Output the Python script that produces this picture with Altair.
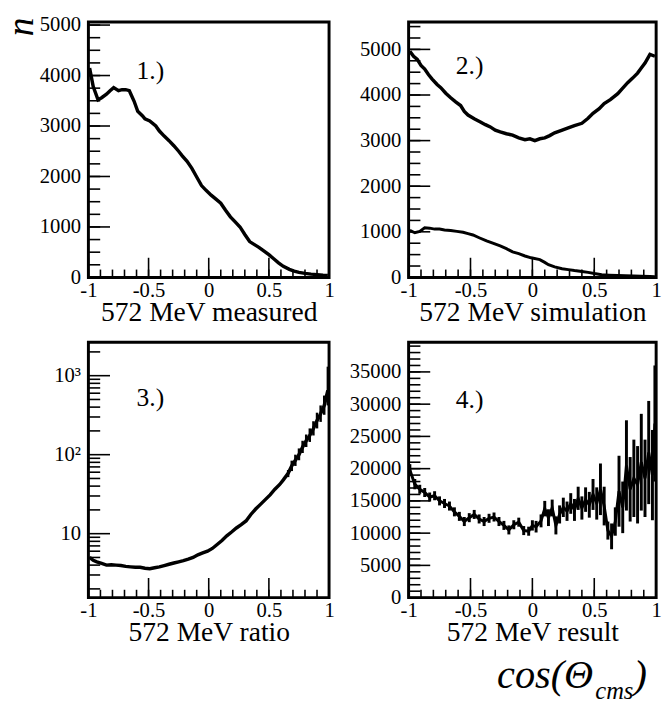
import altair as alt
import pandas as pd

FONT = "Liberation Serif"

# ---------------- data ----------------
# Panel 1: 572 MeV measured
x1 = [-0.99, -0.96, -0.92, -0.89, -0.85, -0.82, -0.79, -0.75, -0.72, -0.69, -0.66, -0.62, -0.59, -0.55,
      -0.53, -0.49, -0.44, -0.41, -0.37, -0.33, -0.29, -0.25, -0.22, -0.18, -0.14, -0.10, -0.06, -0.02,
      0.02, 0.06, 0.10, 0.14, 0.18, 0.22, 0.26, 0.30, 0.34, 0.38, 0.42, 0.46, 0.50, 0.54, 0.58, 0.62,
      0.67, 0.71, 0.75, 0.80, 0.85, 0.90, 0.95, 0.99]
y1 = [4150, 3780, 3520, 3560, 3630, 3700, 3760, 3700, 3720, 3720, 3700, 3490, 3290, 3200,
      3140, 3100, 3000, 2900, 2800, 2710, 2610, 2500, 2410, 2300, 2160, 1990, 1820, 1720,
      1630, 1550, 1470, 1330, 1200, 1100, 1000, 850, 710, 650, 590, 520, 450, 370, 290, 220,
      160, 125, 100, 80, 65, 55, 45, 40]

# Panel 2: 572 MeV simulation (two curves)
x2u = [-0.99, -0.96, -0.93, -0.90, -0.87, -0.84, -0.81, -0.77, -0.74, -0.70, -0.66, -0.62, -0.58, -0.55,
       -0.52, -0.47, -0.42, -0.38, -0.34, -0.30, -0.26, -0.21, -0.16, -0.11, -0.06, -0.02, 0.02, 0.06,
       0.10, 0.14, 0.18, 0.23, 0.29, 0.34, 0.40, 0.45, 0.49, 0.54, 0.58, 0.63, 0.69, 0.73, 0.77, 0.81,
       0.85, 0.88, 0.91, 0.95, 0.99]
y2u = [4960, 4850, 4780, 4650, 4570, 4450, 4350, 4230, 4160, 4040, 3940, 3850, 3770, 3640,
       3560, 3480, 3410, 3350, 3300, 3230, 3190, 3150, 3120, 3060, 3020, 3040, 3000, 3040,
       3060, 3110, 3170, 3220, 3280, 3330, 3380, 3490, 3600, 3700, 3810, 3900, 4030, 4150, 4270, 4370,
       4480, 4590, 4700, 4890, 4850]
x2l = [-0.99, -0.95, -0.91, -0.87, -0.83, -0.79, -0.75, -0.71, -0.66, -0.61, -0.56, -0.52, -0.48, -0.43,
       -0.37, -0.32, -0.26, -0.21, -0.16, -0.11, -0.06, -0.01, 0.06, 0.10, 0.13, 0.18, 0.24, 0.29,
       0.34, 0.40, 0.45, 0.50, 0.56, 0.62, 0.69, 0.75, 0.82, 0.88, 0.95, 0.99]
y2l = [1030, 980, 1010, 1090, 1080, 1060, 1060, 1040, 1030, 1010, 990, 960, 930, 870,
       800, 750, 690, 630, 560, 520, 470, 430, 390, 330, 280, 230, 190, 170,
       150, 130, 110, 85, 60, 50, 40, 35, 30, 25, 20, 15]

# Panel 3: 572 MeV ratio (log scale)
x3 = [-0.99, -0.96, -0.93, -0.89, -0.85, -0.81, -0.77, -0.73, -0.69, -0.65, -0.61, -0.57, -0.53, -0.49,
      -0.45, -0.41, -0.37, -0.33, -0.29, -0.25, -0.21, -0.17, -0.13, -0.09, -0.05, -0.01, 0.03, 0.07,
      0.11, 0.15, 0.19, 0.23, 0.27, 0.31, 0.35, 0.39, 0.43, 0.47, 0.51, 0.55, 0.59, 0.62, 0.66, 0.69,
      0.72, 0.75, 0.78, 0.81, 0.84, 0.87, 0.90, 0.93, 0.96, 0.99]
y3 = [5.0, 4.6, 4.4, 4.2, 4.0, 4.05, 4.0, 3.95, 3.85, 3.8, 3.75, 3.75, 3.65, 3.6,
      3.7, 3.8, 3.95, 4.1, 4.25, 4.4, 4.55, 4.75, 5.0, 5.4, 5.7, 6.0, 6.5, 7.3,
      8.2, 9.4, 10.5, 11.8, 13.0, 14.5, 17.5, 20.5, 23.5, 27, 31, 36.5, 42, 48, 58, 72,
      85, 100, 125, 150, 175, 215, 270, 330, 420, 650]
x3e = [0.66, 0.69, 0.72, 0.75, 0.78, 0.81, 0.84, 0.87, 0.90, 0.93, 0.96, 0.99]
lo3 = [52, 62, 72, 85, 105, 125, 145, 175, 215, 260, 320, 420]
hi3 = [64, 84, 100, 120, 150, 180, 215, 265, 340, 420, 560, 1300]

# Panel 4: 572 MeV result
x4 = [-0.99, -0.95, -0.91, -0.87, -0.83, -0.79, -0.75, -0.71, -0.67, -0.63, -0.59, -0.55, -0.51, -0.47,
      -0.43, -0.39, -0.35, -0.31, -0.27, -0.23, -0.19, -0.15, -0.11, -0.07, -0.03, 0.00, 0.03, 0.07,
      0.10, 0.13, 0.16, 0.19, 0.22, 0.25, 0.28, 0.31, 0.34, 0.37, 0.40, 0.43, 0.46, 0.49, 0.52, 0.55,
      0.58, 0.61, 0.64, 0.67, 0.70, 0.73, 0.76, 0.79, 0.82, 0.85, 0.88, 0.91, 0.94, 0.97, 0.99]
y4 = [19800, 17600, 16800, 16300, 15600, 15800, 15000, 14600, 14200, 13300, 12600, 11800, 12400, 12900,
      12200, 11800, 12300, 12500, 11800, 11200, 10500, 11300, 11700, 10400, 10300, 11200, 11000, 11900,
      13800, 12400, 13900, 11200, 12900, 14000, 13400, 14600, 13600, 15400, 13900, 15200, 14400, 16000, 14600, 16800,
      14200, 10400, 9500, 11800, 16500, 14000, 20500, 16800, 18500, 17500, 21000, 18500, 22500, 19000, 27000]
e4 = [900, 800, 700, 700, 700, 700, 700, 700, 700, 700, 700, 700, 700, 700,
      700, 700, 700, 700, 700, 700, 700, 700, 700, 700, 700, 800, 900, 1000,
      1200, 1300, 1300, 1400, 1400, 1500, 1500, 1600, 1700, 1800, 1800, 1900, 2000, 2400, 2500, 4000,
      3000, 1400, 2000, 2200, 5500, 4000, 7000, 5000, 6000, 6000, 7500, 6000, 8000, 7000, 9000]

# Axis tick values
x_major = [-1, -0.5, 0, 0.5, 1]
x_minor = [round(-1 + 0.1 * i, 1) for i in range(21)]
y1_major = [0, 1000, 2000, 3000, 4000, 5000]
y1_minor = [250 * i for i in range(21)]
y2_major = [0, 1000, 2000, 3000, 4000, 5000]
y2_minor = [250 * i for i in range(23)]
y3_major = [10, 100, 1000]
y3_minor = [m * d for d in (1, 10, 100, 1000) for m in range(2, 10) if 1.55 <= m * d <= 2650]
y4_major = [0, 5000, 10000, 15000, 20000, 25000, 30000, 35000]
y4_minor = [1000 * i for i in range(40)]

W1, W2, H = 245, 252, 260


def x_axis(title):
    return alt.Axis(values=x_major, labelExpr="datum.value + ''", title=title, ticks=False, tickSize=0,
                    domain=False, grid=False, labelFont=FONT, labelFontSize=21, labelColor="black",
                    labelPadding=2, labelFlush=False, labelOverlap=False, titleFont=FONT,
                    titleFontSize=28, titleFontWeight="normal", titleColor="black", titlePadding=-1)


def y_axis(values, expr="datum.value + ''"):
    return alt.Axis(values=values, labelExpr=expr, title=None, ticks=False, tickSize=0, domain=False,
                    grid=False, labelFont=FONT, labelFontSize=21, labelColor="black", labelPadding=8,
                    labelFlush=False, labelOverlap=False)


def tick_layers(xs, ys, xmaj, xmin, ymaj, ymin):
    """Inward ticks along the left and bottom frame edges."""
    layers = []
    for vals, ln in ((ymaj, 22), (ymin, 12)):
        layers.append(alt.Chart(pd.DataFrame({"v": vals})).mark_rule(color="black", strokeWidth=1.6)
                      .encode(y=alt.Y("v:Q", scale=ys, axis=None), x=alt.value(0), x2=alt.value(ln)))
    for vals, ln in ((xmaj, 20), (xmin, 8)):
        layers.append(alt.Chart(pd.DataFrame({"v": vals})).mark_rule(color="black", strokeWidth=1.6)
                      .encode(x=alt.X("v:Q", scale=xs, axis=None), y=alt.value(H), y2=alt.value(H - ln)))
    return layers


def label(text, px, py, size=26, style="normal", angle=0, opacity=1):
    kw = dict(font=FONT, fontSize=size, fontStyle=style, color="black", align="left",
              baseline="alphabetic", opacity=opacity)
    if angle:
        kw.update(angle=angle, align="center", baseline="middle")
    return alt.Chart(pd.DataFrame({"t": [text]})).mark_text(**kw).encode(
        x=alt.value(px), y=alt.value(py), text="t:N")


def panel(main, extras, ticks, texts, width):
    return alt.layer(main, *extras, *ticks, *texts).resolve_axis(
        x="independent", y="independent").properties(width=width, height=H)


xs = alt.Scale(domain=[-1, 1], nice=False, zero=False)

# Panel 1
ys1 = alt.Scale(domain=[0, 5060], nice=False)
d1 = pd.DataFrame({"x": x1, "y": y1})
p1 = panel(
    alt.Chart(d1).mark_line(color="black", strokeWidth=3.5).encode(
        x=alt.X("x:Q", scale=xs, axis=x_axis("572 MeV measured")),
        y=alt.Y("y:Q", scale=ys1, axis=y_axis(y1_major))),
    [],
    tick_layers(xs, ys1, x_major, x_minor, y1_major, y1_minor),
    [label("1.)", 49, 58), label("n", -67, 5, size=38, style="italic", angle=270)],
    W1)

# Panel 2
ys2 = alt.Scale(domain=[0, 5600], nice=False)
d2u = pd.DataFrame({"x": x2u, "y": y2u})
d2l = pd.DataFrame({"x": x2l, "y": y2l})
p2 = panel(
    alt.Chart(d2u).mark_line(color="black", strokeWidth=3.5).encode(
        x=alt.X("x:Q", scale=xs, axis=x_axis("572 MeV simulation")),
        y=alt.Y("y:Q", scale=ys2, axis=y_axis(y2_major))),
    [alt.Chart(d2l).mark_line(color="black", strokeWidth=3).encode(
        x=alt.X("x:Q", scale=xs, axis=None), y=alt.Y("y:Q", scale=ys2, axis=None))],
    tick_layers(xs, ys2, x_major, x_minor, y2_major, y2_minor),
    [label("2.)", 48, 53)],
    W2)

# Panel 3
ys3 = alt.Scale(type="log", domain=[1.55, 2650], nice=False)
d3 = pd.DataFrame({"x": x3, "y": y3})
d3e = pd.DataFrame({"x": x3e, "lo": lo3, "hi": hi3})
p3 = panel(
    alt.Chart(d3).mark_line(color="black", strokeWidth=3.5).encode(
        x=alt.X("x:Q", scale=xs, axis=x_axis("572 MeV ratio")),
        y=alt.Y("y:Q", scale=ys3, axis=y_axis(
            y3_major, "datum.value == 1000 ? '10³' : datum.value == 100 ? '10²' : '10'"))),
    [alt.Chart(d3e).mark_rule(color="black", strokeWidth=2.5).encode(
        x=alt.X("x:Q", scale=xs, axis=None), y=alt.Y("lo:Q", scale=ys3, axis=None), y2="hi:Q")],
    tick_layers(xs, ys3, x_major, x_minor, y3_major, y3_minor),
    # invisible spacer keeps this row's left edge aligned with the "n" of the top row
    [label("3.)", 49, 65), label("n", -67, 120, size=38, style="italic", angle=270, opacity=0)],
    W1)

# Panel 4
ys4 = alt.Scale(domain=[0, 39600], nice=False)
d4 = pd.DataFrame({"x": x4, "y": y4, "lo": [a - b for a, b in zip(y4, e4)],
                   "hi": [a + b for a, b in zip(y4, e4)]})
p4 = panel(
    alt.Chart(d4).mark_line(color="black", strokeWidth=3).encode(
        x=alt.X("x:Q", scale=xs, axis=x_axis("572 MeV result")),
        y=alt.Y("y:Q", scale=ys4, axis=y_axis(y4_major))),
    [alt.Chart(d4).mark_rule(color="black", strokeWidth=3).encode(
        x=alt.X("x:Q", scale=xs, axis=None), y=alt.Y("lo:Q", scale=ys4, axis=None), y2="hi:Q")],
    tick_layers(xs, ys4, x_major, x_minor, y4_major, y4_minor),
    [label("4.)", 48, 67),
     label("cos(Θ", 90, 352, size=41, style="italic"),
     label("cms", 190, 363, size=25, style="italic"),
     label(")", 229, 352, size=41, style="italic")],
    W2)

row1 = alt.hconcat(p1, p2, spacing=81, bounds="flush")
row2 = alt.hconcat(p3, p4, spacing=81, bounds="flush")
chart = alt.vconcat(row1, row2, spacing=12).properties(
    padding={"left": 2, "top": 6, "right": 0, "bottom": 0},
    background="white",
).configure_view(stroke="black", strokeWidth=3).configure_axis(
    grid=False, labelFont=FONT, titleFont=FONT, labelColor="black", titleColor="black")

chart.save("out.html", embed_options={"renderer": "svg", "actions": False})
